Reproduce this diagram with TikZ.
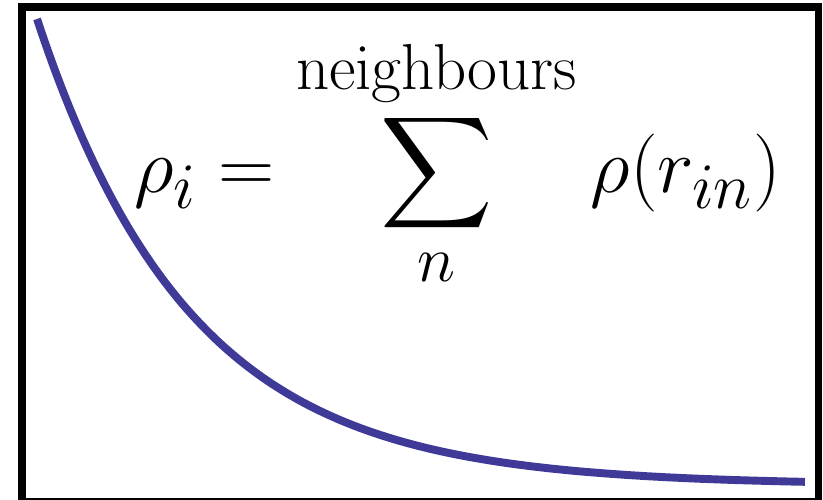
\documentclass[tikz,border=0pt]{standalone}
\usepackage{amsmath}
\definecolor{curveblue}{RGB}{63,58,152}
\begin{document}
\begin{tikzpicture}[
          frame/.style={draw=black, line width=2.7pt},
          decay/.style={draw=curveblue, line width=2.7pt}]
        \useasboundingbox (0,0) rectangle (9.876,5.988);
        \draw[frame] (0.264,-0.03) rectangle (9.822,5.904);
        \draw[decay] plot[domain=0.444:9.66, samples=120, smooth] (\x, {0.168+5.592*exp(-0.5417*(\x-0.444))});
        \node[font=\Huge, inner sep=0pt, anchor=base, scale=1.07, transform shape] (dens) at (5.49,3.68) {$\displaystyle \rho_i = \sum_{n}^{\mathrm{neighbours}} \rho(r_{in})$};
      \end{tikzpicture}
\end{document}
